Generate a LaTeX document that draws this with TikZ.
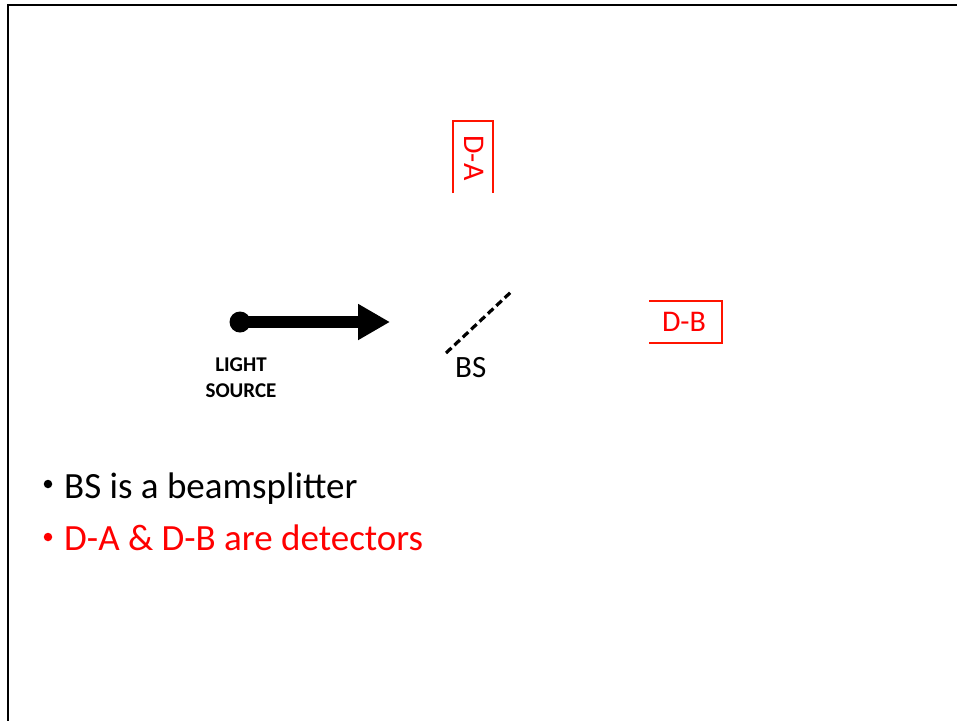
\documentclass[tikz,border=0pt]{standalone}
\usepackage{fontspec}
\setmainfont{Carlito}
\usetikzlibrary{arrows.meta}
\definecolor{detred}{RGB}{255,20,0}
\begin{document}
\begin{tikzpicture}[x=1pt,y=-1pt,
  frameline/.style={line width=2pt,black},
  detbox/.style={detred,line width=2pt},
  dettext/.style={text=red,font=\fontsize{30}{30}\selectfont,inner sep=0pt},
  bullettext/.style={anchor=base west,inner sep=0pt,font=\fontsize{37}{37}\selectfont},
  bulletdot/.style={circle,inner sep=0pt,minimum size=8.5pt}]
\useasboundingbox (0,0) rectangle (957,721);
% slide frame (top and left edges)
\coordinate (ftl) at (8,5);
\coordinate (ftr) at (957,5);
\coordinate (fbl) at (8,721);
\draw[frameline] (ftr) -- (ftl) -- (fbl);

% detector D-A (open at the bottom)
\coordinate (da1) at (453,193);
\coordinate (da2) at (453,121);
\coordinate (da3) at (493,121);
\coordinate (da4) at (493,193);
\draw[detbox] (da1) -- (da2) -- (da3) -- (da4);
\node[dettext,rotate=-90] (DA) at (474,158) {D-A};

% detector D-B (open on the left)
\coordinate (db1) at (649,301);
\coordinate (db2) at (722,301);
\coordinate (db3) at (722,343);
\coordinate (db4) at (649,343);
\draw[detbox] (db1) -- (db2) -- (db3) -- (db4);
\node[dettext] (DB) at (684,322) {D-B};

% light source and beam arrow
\node[circle,fill=black,minimum size=21pt,inner sep=0pt] (src) at (240,322) {};
\coordinate (tip) at (390,322);
\draw[line width=12pt,-{Triangle[length=32pt,width=34pt]}] (src.center) -- (tip);
\node[font=\bfseries\fontsize{21}{26}\selectfont,align=center,inner sep=0pt] (ls) at (241,378) {LIGHT\\SOURCE};

% beamsplitter
\coordinate (bs1) at (446,353);
\coordinate (bs2) at (512,291);
\draw[line width=3.2pt,dash pattern=on 7.5pt off 4pt] (bs1) -- (bs2);
\node[font=\fontsize{31}{31}\selectfont,anchor=base west,inner sep=0pt] (bs) at (455,377) {BS};

% notes
\node[bulletdot,fill=black] (b1) at (48,484) {};
\node[bullettext] (n1) at (64,498) {BS is a beamsplitter};
\node[bulletdot,fill=red] (b2) at (48,537) {};
\node[bullettext,text=red] (n2) at (64,550) {D-A \& D-B are detectors};
\end{tikzpicture}
\end{document}
